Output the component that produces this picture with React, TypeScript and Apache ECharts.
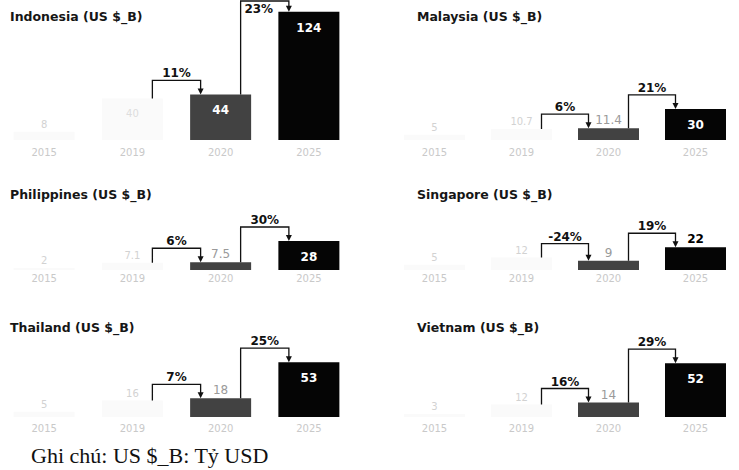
import React, { useEffect, useRef } from "react";
import * as echarts from "echarts";

const years = ["2015", "2019", "2020", "2025"];

const indonesia = [8, 40, 44, 124];
const malaysia = [5, 10.7, 11.4, 30];
const philippines = [2, 7.1, 7.5, 28];
const singapore = [5, 12, 9, 22];
const thailand = [5, 16, 18, 53];
const vietnam = [3, 12, 14, 52];

const growthIndonesia = ["11%", "23%"];
const growthMalaysia = ["6%", "21%"];
const growthPhilippines = ["6%", "30%"];
const growthSingapore = ["-24%", "19%"];
const growthThailand = ["7%", "25%"];
const growthVietnam = ["16%", "29%"];

const titles = [
  "Indonesia (US $_B)",
  "Malaysia (US $_B)",
  "Philippines (US $_B)",
  "Singapore (US $_B)",
  "Thailand (US $_B)",
  "Vietnam (US $_B)",
];
const footnote = "Ghi chú: US $_B: Tỷ USD";

const panelValues = [indonesia, malaysia, philippines, singapore, thailand, vietnam];
const panelGrowth = [
  growthIndonesia,
  growthMalaysia,
  growthPhilippines,
  growthSingapore,
  growthThailand,
  growthVietnam,
];

// layout
const K = 1.035; // px per unit
const rows = [
  { base: 140, max: 130, margin: 7, titleY: 16 },
  { base: 270, max: 40, margin: 3, titleY: 194 },
  { base: 417, max: 60, margin: 6, titleY: 327 },
];
const cols = [
  { left: -18, width: 371, titleX: 10 },
  { left: 391, width: 368, titleX: 417 },
];

const SANS = "DejaVu Sans";

function buildOption() {
  const grid: any[] = [];
  const xAxis: any[] = [];
  const yAxis: any[] = [];
  const series: any[] = [];
  const graphic: any[] = [];

  panelValues.forEach((vals, i) => {
    const r = rows[Math.floor(i / 2)];
    const c = cols[i % 2];
    const h = r.max * K;
    grid.push({ left: c.left, width: c.width, top: r.base - h, height: h });
    xAxis.push({
      type: "category",
      gridIndex: i,
      data: years,
      axisLine: { show: false },
      axisTick: { show: false },
      axisLabel: { color: "#c9c9c9", fontSize: 10, fontFamily: SANS, margin: r.margin },
    });
    yAxis.push({ type: "value", gridIndex: i, min: 0, max: r.max, show: false, splitLine: { show: false } });

    const data = vals.map((v, j) => {
      const inside = v >= 25;
      let color = "#fafafa";
      let labelColor = "#d2d2d2";
      let weight: any = "normal";
      if (j === 2) {
        color = "#424242";
        labelColor = inside ? "#ffffff" : "#9a9a9a";
        weight = inside ? "bold" : "normal";
      } else if (j === 3) {
        color = "#050505";
        labelColor = inside ? "#ffffff" : "#000000";
        weight = "bold";
      } else if (inside) {
        labelColor = "#dddddd";
      }
      return {
        value: v,
        itemStyle: { color },
        label: {
          show: true,
          position: inside ? "insideTop" : "top",
          distance: inside ? 10 : 2,
          color: labelColor,
          fontWeight: weight,
          fontSize: j >= 2 ? 12 : 10,
          fontFamily: SANS,
        },
      };
    });
    series.push({
      type: "bar",
      xAxisIndex: i,
      yAxisIndex: i,
      barWidth: 61,
      data,
      z: 2,
    });

    const growth = panelGrowth[i];
    series.push({
      type: "custom",
      xAxisIndex: i,
      yAxisIndex: i,
      z: 5,
      clip: false,
      data: [
        [1, 2, vals[1], vals[2]],
        [2, 3, vals[2], vals[3]],
      ],
      encode: { x: 0, y: 2 },
      renderItem: (params: any, api: any) => {
        const from = api.value(0);
        const to = api.value(1);
        const fv = api.value(2);
        const tv = api.value(3);
        const p1 = api.coord([from, fv]);
        const p2 = api.coord([to, tv]);
        const x1 = p1[0] + 20;
        const x2 = p2[0] - 20;
        let topY = Math.min(p1[1], p2[1]) - 14;
        const below = topY < 16;
        if (topY < 1) topY = 1;
        return {
          type: "group",
          children: [
            {
              type: "polyline",
              shape: { points: [[x1, p1[1]], [x1, topY], [x2, topY], [x2, p2[1] - 5]] },
              style: { stroke: "#111", lineWidth: 1.3, fill: null },
            },
            {
              type: "polygon",
              shape: { points: [[x2 - 3, p2[1] - 6], [x2 + 3, p2[1] - 6], [x2, p2[1]]] },
              style: { fill: "#111" },
            },
            {
              type: "text",
              x: below ? (x1 + x2) / 2 - 6 : (x1 + x2) / 2,
              y: below ? topY + 2 : topY - 1,
              style: {
                text: growth[params.dataIndex],
                align: "center",
                verticalAlign: below ? "top" : "bottom",
                fontSize: 12,
                fontWeight: "bold",
                fontFamily: SANS,
                fill: "#111",
              },
            },
          ],
        };
      },
    });

    graphic.push({
      type: "text",
      x: c.titleX,
      y: r.titleY,
      style: {
        text: titles[i],
        align: "left",
        verticalAlign: "middle",
        fontSize: 12.5,
        fontWeight: "bold",
        fontFamily: SANS,
        fill: "#161616",
      },
    });
  });

  graphic.push({
    type: "text",
    x: 31,
    y: 455,
    style: {
      text: footnote,
      align: "left",
      verticalAlign: "middle",
      fontSize: 22,
      fontFamily: "Liberation Serif",
      fill: "#111",
    },
  });

  return {
    animation: false,
    backgroundColor: "#ffffff",
    grid,
    xAxis,
    yAxis,
    series,
    graphic,
  };
}

export default function App() {
  const ref = useRef<HTMLDivElement>(null);
  useEffect(() => {
    if (!ref.current) return;
    const chart = echarts.init(ref.current, undefined, { renderer: "svg" });
    chart.setOption(buildOption() as any);
    return () => chart.dispose();
  }, []);
  return (
    <div
      ref={ref}
      style={{ position: "fixed", left: 0, top: 0, width: 739, height: 470, background: "#fff" }}
    />
  );
}
